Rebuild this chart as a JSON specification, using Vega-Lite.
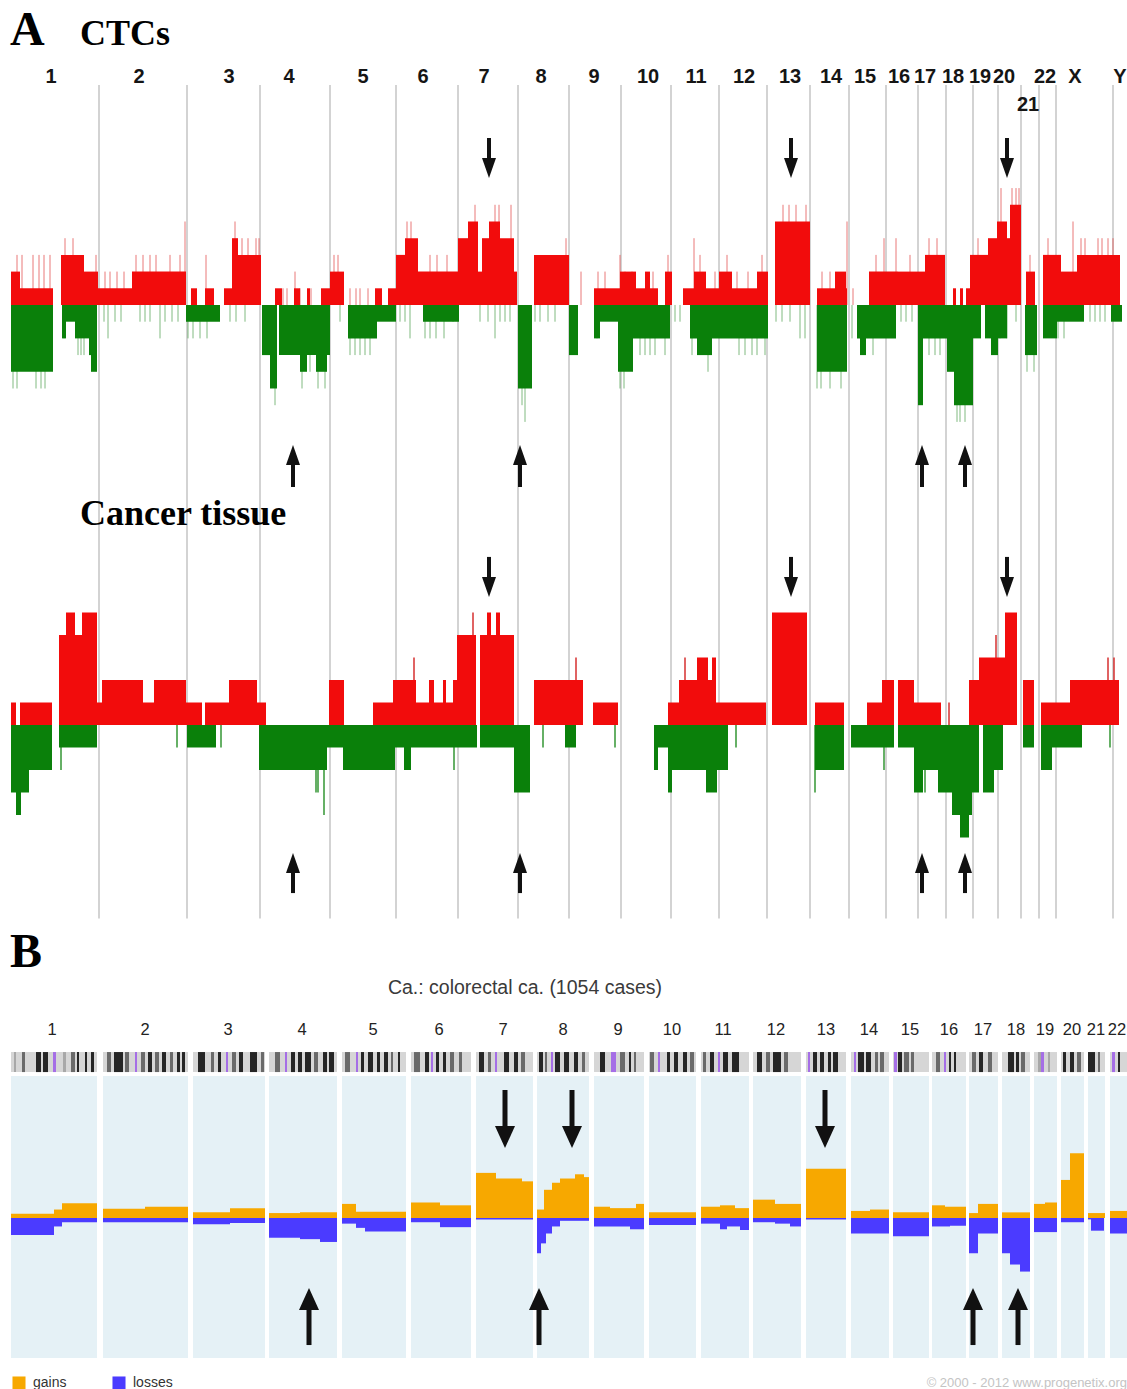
{
"$schema": "https://vega.github.io/schema/vega-lite/v6.json",
"background": "white",
"padding": {"left": 10, "top": 0, "right": 0, "bottom": 0},
"spacing": 0,
"bounds": "flush",
"config": {"view": {"stroke": null}},
"datasets": {
"chromA": [
{"chr":"1","start":10,"end":99,"lab":51},{"chr":"2","start":99,"end":187,"lab":139},{"chr":"3","start":187,"end":260,"lab":229},{"chr":"4","start":260,"end":330,"lab":289},{"chr":"5","start":330,"end":396,"lab":363},{"chr":"6","start":396,"end":458,"lab":423},{"chr":"7","start":458,"end":518,"lab":484},{"chr":"8","start":518,"end":569,"lab":541},{"chr":"9","start":569,"end":621,"lab":594},{"chr":"10","start":621,"end":671,"lab":648},{"chr":"11","start":671,"end":719,"lab":696},{"chr":"12","start":719,"end":767,"lab":744},{"chr":"13","start":767,"end":810,"lab":790},{"chr":"14","start":810,"end":849,"lab":831},{"chr":"15","start":849,"end":886,"lab":865},{"chr":"16","start":886,"end":918,"lab":899},{"chr":"17","start":918,"end":946,"lab":925},{"chr":"18","start":946,"end":973,"lab":953},{"chr":"19","start":973,"end":998,"lab":980},{"chr":"20","start":998,"end":1021,"lab":1004},{"chr":"21","start":1021,"end":1039,"lab":1028},{"chr":"22","start":1039,"end":1056,"lab":1045},{"chr":"X","start":1056,"end":1113,"lab":1075},{"chr":"Y","start":1113,"end":1127,"lab":1120}],
"arrowsA": [{"p":489,"dir":"down"},{"p":791,"dir":"down"},{"p":1007,"dir":"down"},{"p":293,"dir":"up"},{"p":520,"dir":"up"},{"p":922,"dir":"up"},{"p":965,"dir":"up"}],
"ctc": [
{"s":11,"e":20,"v":2},{"s":20,"e":53,"v":1},{"s":61,"e":84,"v":3},{"s":84,"e":98,"v":2},{"s":98,"e":132,"v":1},{"s":132,"e":186,"v":2},{"s":191,"e":197,"v":1},{"s":205,"e":214,"v":1},{"s":224,"e":232,"v":1},{"s":232,"e":238,"v":4},{"s":238,"e":261,"v":3},{"s":275,"e":282,"v":1},{"s":294,"e":300,"v":1},{"s":307,"e":310,"v":1},{"s":321,"e":330,"v":1},{"s":330,"e":344,"v":2},{"s":375,"e":382,"v":1},{"s":388,"e":396,"v":1},{"s":396,"e":405,"v":3},{"s":405,"e":418,"v":4},{"s":418,"e":458,"v":2},{"s":458,"e":468,"v":4},{"s":468,"e":478,"v":5},{"s":478,"e":482,"v":2},{"s":482,"e":489,"v":4},{"s":489,"e":500,"v":5},{"s":500,"e":514,"v":4},{"s":514,"e":517,"v":2},{"s":534,"e":569,"v":3},{"s":594,"e":620,"v":1},{"s":620,"e":636,"v":2},{"s":636,"e":658,"v":1},{"s":645,"e":650,"v":2},{"s":665,"e":672,"v":2},{"s":683,"e":690,"v":1},{"s":690,"e":719,"v":1},{"s":694,"e":706,"v":2},{"s":719,"e":732,"v":2},{"s":732,"e":757,"v":1},{"s":757,"e":768,"v":2},{"s":775,"e":810,"v":5},{"s":817,"e":847,"v":1},{"s":835,"e":846,"v":2},{"s":869,"e":898,"v":2},{"s":898,"e":925,"v":2},{"s":925,"e":945,"v":3},{"s":953,"e":956,"v":1},{"s":960,"e":963,"v":1},{"s":966,"e":970,"v":1},{"s":970,"e":988,"v":3},{"s":988,"e":997,"v":4},{"s":997,"e":1007,"v":5},{"s":1007,"e":1010,"v":4},{"s":1010,"e":1021,"v":6},{"s":1026,"e":1035,"v":2},{"s":1043,"e":1061,"v":3},{"s":1061,"e":1077,"v":2},{"s":1077,"e":1120,"v":3},
{"s":11,"e":53,"v":-4},{"s":62,"e":66,"v":-2},{"s":66,"e":75,"v":-1},{"s":75,"e":89,"v":-2},{"s":89,"e":92,"v":-3},{"s":91,"e":97,"v":-4},{"s":186,"e":220,"v":-1},{"s":262,"e":270,"v":-3},{"s":270,"e":277,"v":-5},{"s":279,"e":330,"v":-3},{"s":300,"e":307,"v":-4},{"s":316,"e":327,"v":-4},{"s":348,"e":377,"v":-2},{"s":377,"e":396,"v":-1},{"s":423,"e":459,"v":-1},{"s":518,"e":532,"v":-5},{"s":569,"e":578,"v":-3},{"s":594,"e":600,"v":-2},{"s":600,"e":618,"v":-1},{"s":618,"e":633,"v":-4},{"s":633,"e":670,"v":-2},{"s":690,"e":732,"v":-2},{"s":697,"e":712,"v":-3},{"s":732,"e":768,"v":-2},{"s":817,"e":847,"v":-4},{"s":857,"e":896,"v":-2},{"s":860,"e":866,"v":-3},{"s":918,"e":947,"v":-2},{"s":918,"e":923,"v":-6},{"s":947,"e":954,"v":-4},{"s":954,"e":973,"v":-6},{"s":973,"e":981,"v":-2},{"s":985,"e":1007,"v":-2},{"s":991,"e":998,"v":-3},{"s":1025,"e":1037,"v":-3},{"s":1043,"e":1057,"v":-2},{"s":1057,"e":1084,"v":-1},{"s":1111,"e":1122,"v":-1}],
"ctcSpikes": [
{"p":17,"v":3},{"p":22,"v":3},{"p":33,"v":3},{"p":39,"v":3},{"p":44,"v":3},{"p":50,"v":3},{"p":65,"v":4},{"p":73,"v":4},{"p":96,"v":3},{"p":105,"v":2},{"p":110,"v":2},{"p":117,"v":2},{"p":124,"v":2},{"p":136,"v":3},{"p":143,"v":3},{"p":150,"v":3},{"p":156,"v":3},{"p":170,"v":3},{"p":180,"v":3},{"p":185,"v":5},{"p":206,"v":3},{"p":235,"v":5},{"p":242,"v":4},{"p":248,"v":4},{"p":256,"v":4},{"p":259,"v":4},{"p":283,"v":1},{"p":287,"v":1},{"p":295,"v":2},{"p":300,"v":1},{"p":311,"v":1},{"p":334,"v":3},{"p":338,"v":3},{"p":350,"v":1},{"p":356,"v":1},{"p":360,"v":1},{"p":368,"v":1},{"p":407,"v":5},{"p":411,"v":5},{"p":430,"v":3},{"p":437,"v":3},{"p":447,"v":3},{"p":475,"v":6},{"p":495,"v":6},{"p":499,"v":6},{"p":511,"v":6},{"p":566,"v":4},{"p":581,"v":2},{"p":598,"v":2},{"p":605,"v":2},{"p":620,"v":3},{"p":625,"v":2},{"p":632,"v":2},{"p":653,"v":2},{"p":668,"v":3},{"p":694,"v":4},{"p":700,"v":3},{"p":715,"v":2},{"p":727,"v":3},{"p":737,"v":2},{"p":748,"v":2},{"p":762,"v":3},{"p":783,"v":6},{"p":789,"v":6},{"p":796,"v":6},{"p":806,"v":6},{"p":822,"v":2},{"p":830,"v":2},{"p":847,"v":5},{"p":853,"v":1},{"p":876,"v":3},{"p":884,"v":4},{"p":896,"v":4},{"p":910,"v":3},{"p":929,"v":4},{"p":937,"v":4},{"p":978,"v":4},{"p":1001,"v":7},{"p":1012,"v":7},{"p":1016,"v":7},{"p":1019,"v":7},{"p":1030,"v":3},{"p":1048,"v":4},{"p":1059,"v":3},{"p":1073,"v":5},{"p":1081,"v":4},{"p":1085,"v":4},{"p":1098,"v":4},{"p":1102,"v":4},{"p":1108,"v":4},{"p":1113,"v":4},
{"p":13,"v":-5},{"p":17,"v":-5},{"p":36,"v":-5},{"p":41,"v":-5},{"p":45,"v":-5},{"p":64,"v":-2},{"p":78,"v":-3},{"p":81,"v":-3},{"p":84,"v":-3},{"p":104,"v":-1},{"p":108,"v":-2},{"p":115,"v":-1},{"p":121,"v":-1},{"p":140,"v":-1},{"p":145,"v":-1},{"p":150,"v":-1},{"p":160,"v":-2},{"p":165,"v":-1},{"p":172,"v":-1},{"p":178,"v":-1},{"p":188,"v":-2},{"p":193,"v":-2},{"p":200,"v":-2},{"p":207,"v":-2},{"p":230,"v":-1},{"p":236,"v":-1},{"p":245,"v":-1},{"p":275,"v":-6},{"p":302,"v":-5},{"p":310,"v":-4},{"p":318,"v":-5},{"p":325,"v":-5},{"p":340,"v":-1},{"p":350,"v":-3},{"p":355,"v":-3},{"p":360,"v":-3},{"p":365,"v":-3},{"p":370,"v":-3},{"p":400,"v":-1},{"p":405,"v":-1},{"p":410,"v":-2},{"p":425,"v":-2},{"p":430,"v":-2},{"p":436,"v":-2},{"p":444,"v":-2},{"p":453,"v":-1},{"p":480,"v":-1},{"p":488,"v":-1},{"p":495,"v":-2},{"p":500,"v":-1},{"p":505,"v":-1},{"p":510,"v":-1},{"p":522,"v":-6},{"p":525,"v":-7},{"p":535,"v":-1},{"p":540,"v":-1},{"p":548,"v":-1},{"p":555,"v":-1},{"p":572,"v":-2},{"p":597,"v":-2},{"p":620,"v":-5},{"p":624,"v":-5},{"p":640,"v":-3},{"p":645,"v":-3},{"p":650,"v":-3},{"p":655,"v":-3},{"p":665,"v":-3},{"p":675,"v":-1},{"p":680,"v":-1},{"p":692,"v":-3},{"p":708,"v":-4},{"p":739,"v":-3},{"p":745,"v":-3},{"p":752,"v":-3},{"p":757,"v":-3},{"p":765,"v":-3},{"p":776,"v":-1},{"p":782,"v":-1},{"p":790,"v":-1},{"p":800,"v":-2},{"p":805,"v":-2},{"p":817,"v":-5},{"p":821,"v":-5},{"p":830,"v":-5},{"p":841,"v":-5},{"p":852,"v":-2},{"p":873,"v":-3},{"p":901,"v":-1},{"p":906,"v":-1},{"p":912,"v":-1},{"p":929,"v":-3},{"p":935,"v":-3},{"p":940,"v":-3},{"p":957,"v":-7},{"p":960,"v":-7},{"p":965,"v":-7},{"p":1000,"v":-2},{"p":1007,"v":-2},{"p":1016,"v":-1},{"p":1027,"v":-4},{"p":1034,"v":-4},{"p":1058,"v":-2},{"p":1064,"v":-2},{"p":1090,"v":-1},{"p":1095,"v":-1},{"p":1100,"v":-1},{"p":1105,"v":-1}],
"tis": [
{"s":11,"e":16,"v":1},{"s":20,"e":52,"v":1},{"s":59,"e":66,"v":4},{"s":66,"e":75,"v":5},{"s":75,"e":82,"v":4},{"s":82,"e":97,"v":5},{"s":97,"e":102,"v":1},{"s":102,"e":143,"v":2},{"s":143,"e":154,"v":1},{"s":154,"e":186,"v":2},{"s":186,"e":202,"v":1},{"s":205,"e":229,"v":1},{"s":229,"e":257,"v":2},{"s":257,"e":266,"v":1},{"s":329,"e":344,"v":2},{"s":373,"e":393,"v":1},{"s":393,"e":416,"v":2},{"s":416,"e":429,"v":1},{"s":429,"e":434,"v":2},{"s":434,"e":443,"v":1},{"s":443,"e":446,"v":2},{"s":446,"e":453,"v":1},{"s":453,"e":457,"v":2},{"s":457,"e":476,"v":4},{"s":480,"e":487,"v":4},{"s":487,"e":491,"v":5},{"s":491,"e":496,"v":4},{"s":496,"e":500,"v":5},{"s":500,"e":514,"v":4},{"s":534,"e":583,"v":2},{"s":593,"e":618,"v":1},{"s":668,"e":679,"v":1},{"s":679,"e":697,"v":2},{"s":697,"e":708,"v":3},{"s":708,"e":712,"v":2},{"s":712,"e":716,"v":3},{"s":716,"e":766,"v":1},{"s":772,"e":807,"v":5},{"s":815,"e":844,"v":1},{"s":867,"e":882,"v":1},{"s":882,"e":894,"v":2},{"s":898,"e":914,"v":2},{"s":914,"e":941,"v":1},{"s":969,"e":979,"v":2},{"s":979,"e":1005,"v":3},{"s":1005,"e":1017,"v":5},{"s":1023,"e":1034,"v":2},{"s":1041,"e":1070,"v":1},{"s":1070,"e":1119,"v":2},
{"s":11,"e":29,"v":-3},{"s":16,"e":21,"v":-4},{"s":29,"e":52,"v":-2},{"s":59,"e":97,"v":-1},{"s":187,"e":216,"v":-1},{"s":259,"e":327,"v":-2},{"s":327,"e":343,"v":-1},{"s":343,"e":395,"v":-2},{"s":395,"e":404,"v":-1},{"s":404,"e":411,"v":-2},{"s":411,"e":477,"v":-1},{"s":480,"e":514,"v":-1},{"s":514,"e":530,"v":-3},{"s":565,"e":576,"v":-1},{"s":654,"e":658,"v":-2},{"s":658,"e":668,"v":-1},{"s":668,"e":672,"v":-3},{"s":672,"e":728,"v":-2},{"s":706,"e":717,"v":-3},{"s":815,"e":844,"v":-2},{"s":851,"e":894,"v":-1},{"s":898,"e":914,"v":-1},{"s":914,"e":923,"v":-3},{"s":923,"e":938,"v":-2},{"s":938,"e":952,"v":-3},{"s":952,"e":960,"v":-4},{"s":960,"e":969,"v":-5},{"s":969,"e":972,"v":-4},{"s":972,"e":979,"v":-3},{"s":983,"e":994,"v":-3},{"s":994,"e":1003,"v":-2},{"s":1023,"e":1034,"v":-1},{"s":1041,"e":1052,"v":-2},{"s":1052,"e":1082,"v":-1}],
"tisSpikes": [{"p":414,"v":3},{"p":473,"v":5},{"p":576,"v":3},{"p":685,"v":3},{"p":949,"v":1},{"p":996,"v":4},{"p":1108,"v":3},{"p":1114,"v":3},{"p":61,"v":-2},{"p":177,"v":-1},{"p":221,"v":-1},{"p":316,"v":-3},{"p":318,"v":-3},{"p":324,"v":-4},{"p":454,"v":-2},{"p":543,"v":-1},{"p":615,"v":-1},{"p":736,"v":-1},{"p":815,"v":-3},{"p":884,"v":-2},{"p":925,"v":-3},{"p":1110,"v":-1}],
"chromB": [
{"chr":"1","start":11,"end":97,"lab":52},{"chr":"2","start":103,"end":188,"lab":145},{"chr":"3","start":193,"end":265,"lab":228},{"chr":"4","start":269,"end":337,"lab":302},{"chr":"5","start":342,"end":406,"lab":373},{"chr":"6","start":411,"end":471,"lab":439},{"chr":"7","start":476,"end":533,"lab":503},{"chr":"8","start":537,"end":589,"lab":563},{"chr":"9","start":594,"end":644,"lab":618},{"chr":"10","start":649,"end":696,"lab":672},{"chr":"11","start":701,"end":749,"lab":723},{"chr":"12","start":753,"end":801,"lab":776},{"chr":"13","start":806,"end":846,"lab":826},{"chr":"14","start":851,"end":889,"lab":869},{"chr":"15","start":893,"end":929,"lab":910},{"chr":"16","start":932,"end":966,"lab":949},{"chr":"17","start":969,"end":998,"lab":983},{"chr":"18","start":1002,"end":1030,"lab":1016},{"chr":"19","start":1034,"end":1057,"lab":1045},{"chr":"20","start":1061,"end":1084,"lab":1072},{"chr":"21","start":1088,"end":1105,"lab":1096},{"chr":"22","start":1110,"end":1127,"lab":1117}],
"bands": [
{"s":14,"e":16,"st":"gpos25"},{"s":22,"e":25,"st":"gpos50"},{"s":36,"e":41,"st":"gpos100"},{"s":43,"e":48,"st":"gpos100"},{"s":53,"e":56,"st":"acen"},{"s":63,"e":66,"st":"gpos25"},{"s":71,"e":75,"st":"gpos50"},{"s":77,"e":79,"st":"gpos100"},{"s":85,"e":87,"st":"gpos100"},{"s":91,"e":94,"st":"gpos100"},
{"s":107,"e":111,"st":"gpos50"},{"s":114,"e":123,"st":"gpos100"},{"s":125,"e":129,"st":"gpos50"},{"s":135,"e":137,"st":"acen"},{"s":141,"e":145,"st":"gpos50"},{"s":148,"e":152,"st":"gpos100"},{"s":155,"e":159,"st":"gpos50"},{"s":162,"e":166,"st":"gpos100"},{"s":170,"e":173,"st":"gpos50"},{"s":177,"e":180,"st":"gpos100"},{"s":182,"e":185,"st":"gpos100"},
{"s":198,"e":205,"st":"gpos100"},{"s":211,"e":214,"st":"gpos50"},{"s":218,"e":221,"st":"gpos100"},{"s":226,"e":228,"st":"acen"},{"s":232,"e":236,"st":"gpos50"},{"s":239,"e":243,"st":"gpos100"},{"s":250,"e":257,"st":"gpos100"},{"s":261,"e":264,"st":"gpos50"},
{"s":275,"e":280,"st":"gpos50"},{"s":285,"e":287,"st":"acen"},{"s":291,"e":295,"st":"gpos100"},{"s":298,"e":302,"st":"gpos100"},{"s":305,"e":311,"st":"gpos100"},{"s":314,"e":318,"st":"gpos50"},{"s":323,"e":327,"st":"gpos100"},{"s":329,"e":334,"st":"gpos100"},
{"s":345,"e":350,"st":"gpos50"},{"s":356,"e":358,"st":"acen"},{"s":361,"e":364,"st":"gpos100"},{"s":368,"e":373,"st":"gpos100"},{"s":377,"e":380,"st":"gpos100"},{"s":384,"e":388,"st":"gpos100"},{"s":391,"e":393,"st":"gpos50"},{"s":398,"e":400,"st":"gpos100"},
{"s":414,"e":420,"st":"gpos50"},{"s":425,"e":429,"st":"gpos100"},{"s":431,"e":433,"st":"acen"},{"s":436,"e":439,"st":"gpos100"},{"s":443,"e":446,"st":"gpos100"},{"s":450,"e":454,"st":"gpos50"},{"s":459,"e":462,"st":"gpos50"},
{"s":479,"e":484,"st":"gpos100"},{"s":488,"e":491,"st":"gpos50"},{"s":495,"e":497,"st":"acen"},{"s":504,"e":509,"st":"gpos100"},{"s":514,"e":518,"st":"gpos100"},{"s":521,"e":525,"st":"gpos50"},
{"s":539,"e":543,"st":"gpos100"},{"s":545,"e":547,"st":"gpos50"},{"s":551,"e":553,"st":"acen"},{"s":555,"e":560,"st":"gpos100"},{"s":564,"e":569,"st":"gpos100"},{"s":574,"e":578,"st":"gpos100"},{"s":582,"e":585,"st":"gpos50"},
{"s":600,"e":605,"st":"gpos100"},{"s":611,"e":616,"st":"acen"},{"s":620,"e":625,"st":"gpos50"},{"s":629,"e":631,"st":"gpos100"},{"s":634,"e":636,"st":"gpos50"},
{"s":650,"e":654,"st":"gpos50"},{"s":658,"e":660,"st":"acen"},{"s":667,"e":670,"st":"gpos100"},{"s":674,"e":678,"st":"gpos100"},{"s":683,"e":687,"st":"gpos100"},{"s":690,"e":694,"st":"gpos50"},
{"s":703,"e":706,"st":"gpos50"},{"s":710,"e":714,"st":"gpos100"},{"s":718,"e":720,"st":"acen"},{"s":723,"e":728,"st":"gpos100"},{"s":732,"e":739,"st":"gpos100"},
{"s":757,"e":762,"st":"gpos100"},{"s":766,"e":770,"st":"gpos50"},{"s":773,"e":781,"st":"gpos100"},{"s":784,"e":788,"st":"gpos50"},
{"s":808,"e":810,"st":"acen"},{"s":813,"e":817,"st":"gpos100"},{"s":820,"e":824,"st":"gpos100"},{"s":828,"e":831,"st":"gpos100"},{"s":833,"e":838,"st":"gpos100"},
{"s":854,"e":856,"st":"acen"},{"s":858,"e":864,"st":"gpos100"},{"s":866,"e":871,"st":"gpos100"},{"s":875,"e":878,"st":"gpos50"},{"s":880,"e":884,"st":"gpos50"},
{"s":894,"e":897,"st":"acen"},{"s":898,"e":902,"st":"gpos100"},{"s":904,"e":909,"st":"gpos50"},{"s":911,"e":914,"st":"gpos50"},
{"s":936,"e":940,"st":"gpos50"},{"s":944,"e":946,"st":"acen"},{"s":949,"e":951,"st":"gpos100"},{"s":954,"e":956,"st":"gpos100"},
{"s":972,"e":976,"st":"gpos50"},{"s":979,"e":983,"st":"gpos100"},{"s":988,"e":992,"st":"gpos50"},
{"s":1008,"e":1014,"st":"gpos100"},{"s":1016,"e":1019,"st":"gpos100"},{"s":1021,"e":1025,"st":"gpos50"},
{"s":1038,"e":1041,"st":"gpos25"},{"s":1041,"e":1044,"st":"acen"},{"s":1048,"e":1050,"st":"gpos25"},
{"s":1063,"e":1066,"st":"gpos100"},{"s":1070,"e":1074,"st":"gpos100"},{"s":1077,"e":1081,"st":"gpos50"},
{"s":1088,"e":1095,"st":"gpos100"},{"s":1098,"e":1100,"st":"gpos50"},
{"s":1112,"e":1115,"st":"acen"},{"s":1118,"e":1120,"st":"gpos100"}],
"freqB": [
{"s":11,"e":54,"pct":3,"type":"gains"},{"s":54,"e":62,"pct":6,"type":"gains"},{"s":62,"e":97,"pct":10.5,"type":"gains"},{"s":103,"e":145,"pct":6.5,"type":"gains"},{"s":145,"e":188,"pct":8,"type":"gains"},{"s":193,"e":230,"pct":4,"type":"gains"},{"s":230,"e":265,"pct":7,"type":"gains"},{"s":269,"e":300,"pct":3.5,"type":"gains"},{"s":300,"e":337,"pct":4,"type":"gains"},{"s":342,"e":356,"pct":10,"type":"gains"},{"s":356,"e":406,"pct":4.5,"type":"gains"},{"s":411,"e":440,"pct":11,"type":"gains"},{"s":440,"e":471,"pct":9,"type":"gains"},{"s":476,"e":496,"pct":32,"type":"gains"},{"s":496,"e":522,"pct":28,"type":"gains"},{"s":522,"e":533,"pct":26,"type":"gains"},{"s":537,"e":544,"pct":6,"type":"gains"},{"s":544,"e":552,"pct":20,"type":"gains"},{"s":552,"e":560,"pct":25,"type":"gains"},{"s":560,"e":575,"pct":28,"type":"gains"},{"s":575,"e":584,"pct":31,"type":"gains"},{"s":584,"e":589,"pct":29,"type":"gains"},{"s":594,"e":610,"pct":8,"type":"gains"},{"s":610,"e":636,"pct":7,"type":"gains"},{"s":636,"e":644,"pct":10,"type":"gains"},{"s":649,"e":696,"pct":4,"type":"gains"},{"s":701,"e":720,"pct":8,"type":"gains"},{"s":720,"e":735,"pct":9,"type":"gains"},{"s":735,"e":749,"pct":7,"type":"gains"},{"s":753,"e":775,"pct":13,"type":"gains"},{"s":775,"e":801,"pct":10,"type":"gains"},{"s":806,"e":846,"pct":35,"type":"gains"},{"s":851,"e":870,"pct":5,"type":"gains"},{"s":870,"e":889,"pct":6,"type":"gains"},{"s":893,"e":929,"pct":4,"type":"gains"},{"s":932,"e":945,"pct":9,"type":"gains"},{"s":945,"e":966,"pct":8,"type":"gains"},{"s":969,"e":978,"pct":3.5,"type":"gains"},{"s":978,"e":998,"pct":10,"type":"gains"},{"s":1002,"e":1030,"pct":4,"type":"gains"},{"s":1034,"e":1045,"pct":10,"type":"gains"},{"s":1045,"e":1057,"pct":11,"type":"gains"},{"s":1061,"e":1070,"pct":27,"type":"gains"},{"s":1070,"e":1084,"pct":46,"type":"gains"},{"s":1088,"e":1105,"pct":3.5,"type":"gains"},{"s":1110,"e":1127,"pct":5,"type":"gains"},
{"s":11,"e":54,"pct":-12,"type":"losses"},{"s":54,"e":62,"pct":-6,"type":"losses"},{"s":62,"e":97,"pct":-3,"type":"losses"},{"s":103,"e":188,"pct":-3,"type":"losses"},{"s":193,"e":230,"pct":-4.5,"type":"losses"},{"s":230,"e":265,"pct":-3.5,"type":"losses"},{"s":269,"e":300,"pct":-14,"type":"losses"},{"s":300,"e":320,"pct":-15,"type":"losses"},{"s":320,"e":337,"pct":-17,"type":"losses"},{"s":342,"e":356,"pct":-4,"type":"losses"},{"s":356,"e":365,"pct":-7,"type":"losses"},{"s":365,"e":406,"pct":-9.5,"type":"losses"},{"s":411,"e":440,"pct":-3,"type":"losses"},{"s":440,"e":471,"pct":-6.5,"type":"losses"},{"s":476,"e":533,"pct":-1,"type":"losses"},{"s":537,"e":541,"pct":-25,"type":"losses"},{"s":541,"e":546,"pct":-18,"type":"losses"},{"s":546,"e":552,"pct":-11,"type":"losses"},{"s":552,"e":560,"pct":-6,"type":"losses"},{"s":560,"e":589,"pct":-2,"type":"losses"},{"s":594,"e":630,"pct":-6,"type":"losses"},{"s":630,"e":644,"pct":-8,"type":"losses"},{"s":649,"e":696,"pct":-5,"type":"losses"},{"s":701,"e":720,"pct":-4,"type":"losses"},{"s":720,"e":727,"pct":-8,"type":"losses"},{"s":727,"e":740,"pct":-6,"type":"losses"},{"s":740,"e":749,"pct":-8.5,"type":"losses"},{"s":753,"e":775,"pct":-3,"type":"losses"},{"s":775,"e":790,"pct":-4,"type":"losses"},{"s":790,"e":801,"pct":-6,"type":"losses"},{"s":806,"e":846,"pct":-1,"type":"losses"},{"s":851,"e":889,"pct":-11,"type":"losses"},{"s":893,"e":929,"pct":-13,"type":"losses"},{"s":932,"e":950,"pct":-6,"type":"losses"},{"s":950,"e":966,"pct":-5.5,"type":"losses"},{"s":969,"e":978,"pct":-25,"type":"losses"},{"s":978,"e":998,"pct":-11,"type":"losses"},{"s":1002,"e":1010,"pct":-25,"type":"losses"},{"s":1010,"e":1020,"pct":-33,"type":"losses"},{"s":1020,"e":1030,"pct":-38,"type":"losses"},{"s":1034,"e":1057,"pct":-10,"type":"losses"},{"s":1061,"e":1084,"pct":-3,"type":"losses"},{"s":1088,"e":1091,"pct":-1,"type":"losses"},{"s":1091,"e":1104,"pct":-9,"type":"losses"},{"s":1110,"e":1127,"pct":-11,"type":"losses"}],
"arrowsB": [{"p":505,"dir":"down"},{"p":572,"dir":"down"},{"p":825,"dir":"down"},{"p":309,"dir":"up"},{"p":539,"dir":"up"},{"p":973,"dir":"up"},{"p":1018,"dir":"up"}]
},
"vconcat": [
{
"width": 1117, "height": 500,
"layer": [
{"data": {"name": "chromA"}, "transform": [{"filter": "datum.chr != '1'"}],
 "mark": {"type": "rule", "color": "#c4c4c4", "strokeWidth": 1.5},
 "encoding": {"x": {"field": "start", "type": "quantitative", "scale": {"domain": [10, 1127], "nice": false, "zero": false}, "axis": null},
  "y": {"datum": 13.17, "type": "quantitative", "scale": {"domain": [-11.677, 18.263], "nice": false, "zero": false}, "axis": null}, "y2": {"datum": -11.677}}},
{"data": {"name": "ctcSpikes"},
 "mark": {"type": "rule", "strokeWidth": 1, "opacity": 0.7},
 "encoding": {"x": {"field": "p", "type": "quantitative", "scale": {"domain": [10, 1127], "nice": false, "zero": false}, "axis": null},
  "y": {"field": "v", "type": "quantitative", "scale": {"domain": [-11.677, 18.263], "nice": false, "zero": false}, "axis": null}, "y2": {"datum": 0},
  "color": {"condition": {"test": "datum.v > 0", "value": "#e04040"}, "value": "#4a9e4a"}}},
{"data": {"name": "ctc"},
 "mark": {"type": "rect"},
 "encoding": {"x": {"field": "s", "type": "quantitative", "scale": {"domain": [10, 1127], "nice": false, "zero": false}, "axis": null}, "x2": {"field": "e"},
  "y": {"field": "v", "type": "quantitative", "scale": {"domain": [-11.677, 18.263], "nice": false, "zero": false}, "axis": null}, "y2": {"datum": 0},
  "color": {"condition": {"test": "datum.v > 0", "value": "#f20c0c"}, "value": "#0a800a"}}},
{"data": {"name": "chromA"}, "transform": [{"filter": "datum.chr != '21'"}],
 "mark": {"type": "text", "font": "Liberation Sans", "fontWeight": "bold", "fontSize": 20, "color": "#151515", "align": "center", "baseline": "middle"},
 "encoding": {"x": {"field": "lab", "type": "quantitative", "scale": {"domain": [10, 1127], "nice": false, "zero": false}, "axis": null},
  "y": {"datum": 13.65, "type": "quantitative", "scale": {"domain": [-11.677, 18.263], "nice": false, "zero": false}, "axis": null}, "text": {"field": "chr"}}},
{"data": {"name": "chromA"}, "transform": [{"filter": "datum.chr == '21'"}],
 "mark": {"type": "text", "font": "Liberation Sans", "fontWeight": "bold", "fontSize": 20, "color": "#151515", "align": "center", "baseline": "middle"},
 "encoding": {"x": {"field": "lab", "type": "quantitative", "scale": {"domain": [10, 1127], "nice": false, "zero": false}, "axis": null},
  "y": {"datum": 11.98, "type": "quantitative", "scale": {"domain": [-11.677, 18.263], "nice": false, "zero": false}, "axis": null}, "text": {"field": "chr"}}},
{"data": {"values": [{"t": "A"}]},
 "mark": {"type": "text", "font": "Liberation Serif, Times New Roman, serif", "fontWeight": "bold", "fontSize": 48, "color": "#000", "align": "left", "baseline": "alphabetic"},
 "encoding": {"x": {"datum": 10, "type": "quantitative", "scale": {"domain": [10, 1127], "nice": false, "zero": false}, "axis": null},
  "y": {"datum": 15.55, "type": "quantitative", "scale": {"domain": [-11.677, 18.263], "nice": false, "zero": false}, "axis": null}, "text": {"field": "t"}}},
{"data": {"values": [{"t": "CTCs"}]},
 "mark": {"type": "text", "font": "Liberation Serif, Times New Roman, serif", "fontWeight": "bold", "fontSize": 36, "color": "#000", "align": "left", "baseline": "alphabetic"},
 "encoding": {"x": {"datum": 80, "type": "quantitative", "scale": {"domain": [10, 1127], "nice": false, "zero": false}, "axis": null},
  "y": {"datum": 15.55, "type": "quantitative", "scale": {"domain": [-11.677, 18.263], "nice": false, "zero": false}, "axis": null}, "text": {"field": "t"}}},
{"data": {"name": "arrowsA"}, "transform": [{"filter": "datum.dir == 'down'"}],
 "mark": {"type": "rule", "strokeWidth": 4, "color": "#111"},
 "encoding": {"x": {"field": "p", "type": "quantitative", "scale": {"domain": [10, 1127], "nice": false, "zero": false}, "axis": null},
  "y": {"datum": 10.0, "type": "quantitative", "scale": {"domain": [-11.677, 18.263], "nice": false, "zero": false}, "axis": null}, "y2": {"datum": 8.6}}},
{"data": {"name": "arrowsA"}, "transform": [{"filter": "datum.dir == 'down'"}],
 "mark": {"type": "point", "shape": "M-0.7,-1L0.7,-1L0,1Z", "size": 400, "filled": true, "opacity": 1, "color": "#111", "strokeWidth": 0},
 "encoding": {"x": {"field": "p", "type": "quantitative", "scale": {"domain": [10, 1127], "nice": false, "zero": false}, "axis": null},
  "y": {"datum": 8.2, "type": "quantitative", "scale": {"domain": [-11.677, 18.263], "nice": false, "zero": false}, "axis": null}}},
{"data": {"name": "arrowsA"}, "transform": [{"filter": "datum.dir == 'up'"}],
 "mark": {"type": "rule", "strokeWidth": 4, "color": "#111"},
 "encoding": {"x": {"field": "p", "type": "quantitative", "scale": {"domain": [10, 1127], "nice": false, "zero": false}, "axis": null},
  "y": {"datum": -9.4, "type": "quantitative", "scale": {"domain": [-11.677, 18.263], "nice": false, "zero": false}, "axis": null}, "y2": {"datum": -10.9}}},
{"data": {"name": "arrowsA"}, "transform": [{"filter": "datum.dir == 'up'"}],
 "mark": {"type": "point", "shape": "M-0.7,1L0.7,1L0,-1Z", "size": 400, "filled": true, "opacity": 1, "color": "#111", "strokeWidth": 0},
 "encoding": {"x": {"field": "p", "type": "quantitative", "scale": {"domain": [10, 1127], "nice": false, "zero": false}, "axis": null},
  "y": {"datum": -8.98, "type": "quantitative", "scale": {"domain": [-11.677, 18.263], "nice": false, "zero": false}, "axis": null}}}
]
},
{
"width": 1117, "height": 420,
"layer": [
{"data": {"name": "chromA"}, "transform": [{"filter": "datum.chr != '1'"}],
 "mark": {"type": "rule", "color": "#c4c4c4", "strokeWidth": 1.5},
 "encoding": {"x": {"field": "start", "type": "quantitative", "scale": {"domain": [10, 1127], "nice": false, "zero": false}, "axis": null},
  "y": {"datum": 10, "type": "quantitative", "scale": {"domain": [-8.667, 10], "nice": false, "zero": false}, "axis": null}, "y2": {"datum": -8.6}}},
{"data": {"name": "tisSpikes"},
 "mark": {"type": "rule", "strokeWidth": 1.5, "opacity": 0.9},
 "encoding": {"x": {"field": "p", "type": "quantitative", "scale": {"domain": [10, 1127], "nice": false, "zero": false}, "axis": null},
  "y": {"field": "v", "type": "quantitative", "scale": {"domain": [-8.667, 10], "nice": false, "zero": false}, "axis": null}, "y2": {"datum": 0},
  "color": {"condition": {"test": "datum.v > 0", "value": "#d01818"}, "value": "#1d8a1d"}}},
{"data": {"name": "tis"},
 "mark": {"type": "rect"},
 "encoding": {"x": {"field": "s", "type": "quantitative", "scale": {"domain": [10, 1127], "nice": false, "zero": false}, "axis": null}, "x2": {"field": "e"},
  "y": {"field": "v", "type": "quantitative", "scale": {"domain": [-8.667, 10], "nice": false, "zero": false}, "axis": null}, "y2": {"datum": 0},
  "color": {"condition": {"test": "datum.v > 0", "value": "#f20c0c"}, "value": "#0a800a"}}},
{"data": {"values": [{"t": "Cancer tissue"}]},
 "mark": {"type": "text", "font": "Liberation Serif, Times New Roman, serif", "fontWeight": "bold", "fontSize": 36, "color": "#000", "align": "left", "baseline": "alphabetic"},
 "encoding": {"x": {"datum": 80, "type": "quantitative", "scale": {"domain": [10, 1127], "nice": false, "zero": false}, "axis": null},
  "y": {"datum": 8.89, "type": "quantitative", "scale": {"domain": [-8.667, 10], "nice": false, "zero": false}, "axis": null}, "text": {"field": "t"}}},
{"data": {"name": "arrowsA"}, "transform": [{"filter": "datum.dir == 'down'"}],
 "mark": {"type": "rule", "strokeWidth": 4, "color": "#111"},
 "encoding": {"x": {"field": "p", "type": "quantitative", "scale": {"domain": [10, 1127], "nice": false, "zero": false}, "axis": null},
  "y": {"datum": 7.47, "type": "quantitative", "scale": {"domain": [-8.667, 10], "nice": false, "zero": false}, "axis": null}, "y2": {"datum": 6.5}}},
{"data": {"name": "arrowsA"}, "transform": [{"filter": "datum.dir == 'down'"}],
 "mark": {"type": "point", "shape": "M-0.7,-1L0.7,-1L0,1Z", "size": 400, "filled": true, "opacity": 1, "color": "#111", "strokeWidth": 0},
 "encoding": {"x": {"field": "p", "type": "quantitative", "scale": {"domain": [10, 1127], "nice": false, "zero": false}, "axis": null},
  "y": {"datum": 6.13, "type": "quantitative", "scale": {"domain": [-8.667, 10], "nice": false, "zero": false}, "axis": null}}},
{"data": {"name": "arrowsA"}, "transform": [{"filter": "datum.dir == 'up'"}],
 "mark": {"type": "rule", "strokeWidth": 4, "color": "#111"},
 "encoding": {"x": {"field": "p", "type": "quantitative", "scale": {"domain": [10, 1127], "nice": false, "zero": false}, "axis": null},
  "y": {"datum": -6.5, "type": "quantitative", "scale": {"domain": [-8.667, 10], "nice": false, "zero": false}, "axis": null}, "y2": {"datum": -7.47}}},
{"data": {"name": "arrowsA"}, "transform": [{"filter": "datum.dir == 'up'"}],
 "mark": {"type": "point", "shape": "M-0.7,1L0.7,1L0,-1Z", "size": 400, "filled": true, "opacity": 1, "color": "#111", "strokeWidth": 0},
 "encoding": {"x": {"field": "p", "type": "quantitative", "scale": {"domain": [10, 1127], "nice": false, "zero": false}, "axis": null},
  "y": {"datum": -6.13, "type": "quantitative", "scale": {"domain": [-8.667, 10], "nice": false, "zero": false}, "axis": null}}}
]
},
{
"width": 1117, "height": 469,
"layer": [
{"data": {"name": "chromB"},
 "mark": {"type": "rect", "color": "#e5f1f6"},
 "encoding": {"x": {"field": "start", "type": "quantitative", "scale": {"domain": [10, 1127], "nice": false, "zero": false}, "axis": null}, "x2": {"field": "end"},
  "y": {"datum": 100.7, "type": "quantitative", "scale": {"domain": [-121.28, 211.35], "nice": false, "zero": false}, "axis": null}, "y2": {"datum": -99.3}}},
{"data": {"name": "chromB"},
 "mark": {"type": "rect", "color": "#d6d6d6"},
 "encoding": {"x": {"field": "start", "type": "quantitative", "scale": {"domain": [10, 1127], "nice": false, "zero": false}, "axis": null}, "x2": {"field": "end"},
  "y": {"datum": 117.7, "type": "quantitative", "scale": {"domain": [-121.28, 211.35], "nice": false, "zero": false}, "axis": null}, "y2": {"datum": 103.5}}},
{"data": {"name": "bands"},
 "mark": {"type": "rect"},
 "encoding": {"x": {"field": "s", "type": "quantitative", "scale": {"domain": [10, 1127], "nice": false, "zero": false}, "axis": null}, "x2": {"field": "e"},
  "y": {"datum": 117.7, "type": "quantitative", "scale": {"domain": [-121.28, 211.35], "nice": false, "zero": false}, "axis": null}, "y2": {"datum": 103.5},
  "fill": {"field": "st", "type": "nominal", "scale": {"domain": ["gpos100", "gpos50", "gpos25", "acen"], "range": ["#262626", "#6a6a6a", "#a8a8a8", "#a56ee6"]}, "legend": null}}},
{"data": {"name": "freqB"},
 "mark": {"type": "rect"},
 "encoding": {"x": {"field": "s", "type": "quantitative", "scale": {"domain": [10, 1127], "nice": false, "zero": false}, "axis": null}, "x2": {"field": "e"},
  "y": {"field": "pct", "type": "quantitative", "scale": {"domain": [-121.28, 211.35], "nice": false, "zero": false}, "axis": null}, "y2": {"datum": 0},
  "color": {"field": "type", "type": "nominal", "scale": {"domain": ["gains", "losses"], "range": ["#f7a800", "#4b3bff"]},
   "legend": {"orient": "none", "legendX": 2, "legendY": 1376, "direction": "horizontal", "title": null, "symbolType": "square", "symbolSize": 170, "symbolOpacity": 1, "symbolStrokeWidth": 0, "labelFontSize": 14, "labelFont": "Liberation Sans", "labelColor": "#333", "labelOffset": 7, "columnPadding": 45, "padding": 0}}}},
{"data": {"name": "chromB"},
 "mark": {"type": "text", "font": "Liberation Sans", "fontSize": 16.5, "color": "#222", "align": "center", "baseline": "middle"},
 "encoding": {"x": {"field": "lab", "type": "quantitative", "scale": {"domain": [10, 1127], "nice": false, "zero": false}, "axis": null},
  "y": {"datum": 133.3, "type": "quantitative", "scale": {"domain": [-121.28, 211.35], "nice": false, "zero": false}, "axis": null}, "text": {"field": "chr"}}},
{"data": {"values": [{"t": "Ca.: colorectal ca. (1054 cases)"}]},
 "mark": {"type": "text", "font": "Liberation Sans", "fontSize": 19.5, "color": "#3a3a3a", "align": "center", "baseline": "middle"},
 "encoding": {"x": {"datum": 525, "type": "quantitative", "scale": {"domain": [10, 1127], "nice": false, "zero": false}, "axis": null},
  "y": {"datum": 163.1, "type": "quantitative", "scale": {"domain": [-121.28, 211.35], "nice": false, "zero": false}, "axis": null}, "text": {"field": "t"}}},
{"data": {"values": [{"t": "B"}]},
 "mark": {"type": "text", "font": "Liberation Serif, Times New Roman, serif", "fontWeight": "bold", "fontSize": 48, "color": "#000", "align": "left", "baseline": "alphabetic"},
 "encoding": {"x": {"datum": 10, "type": "quantitative", "scale": {"domain": [10, 1127], "nice": false, "zero": false}, "axis": null},
  "y": {"datum": 178, "type": "quantitative", "scale": {"domain": [-121.28, 211.35], "nice": false, "zero": false}, "axis": null}, "text": {"field": "t"}}},
{"data": {"values": [{"t": "© 2000 - 2012 www.progenetix.org"}]},
 "mark": {"type": "text", "font": "Liberation Sans", "fontSize": 13, "color": "#c4c4c4", "align": "right", "baseline": "middle"},
 "encoding": {"x": {"datum": 1127, "type": "quantitative", "scale": {"domain": [10, 1127], "nice": false, "zero": false}, "axis": null},
  "y": {"datum": -117, "type": "quantitative", "scale": {"domain": [-121.28, 211.35], "nice": false, "zero": false}, "axis": null}, "text": {"field": "t"}}},
{"data": {"name": "arrowsB"}, "transform": [{"filter": "datum.dir == 'down'"}],
 "mark": {"type": "rule", "strokeWidth": 5, "color": "#111"},
 "encoding": {"x": {"field": "p", "type": "quantitative", "scale": {"domain": [10, 1127], "nice": false, "zero": false}, "axis": null},
  "y": {"datum": 90.8, "type": "quantitative", "scale": {"domain": [-121.28, 211.35], "nice": false, "zero": false}, "axis": null}, "y2": {"datum": 63}}},
{"data": {"name": "arrowsB"}, "transform": [{"filter": "datum.dir == 'down'"}],
 "mark": {"type": "point", "shape": "M-1,-1.1L1,-1.1L0,1.1Z", "size": 400, "filled": true, "opacity": 1, "color": "#111", "strokeWidth": 0},
 "encoding": {"x": {"field": "p", "type": "quantitative", "scale": {"domain": [10, 1127], "nice": false, "zero": false}, "axis": null},
  "y": {"datum": 57.4, "type": "quantitative", "scale": {"domain": [-121.28, 211.35], "nice": false, "zero": false}, "axis": null}}},
{"data": {"name": "arrowsB"}, "transform": [{"filter": "datum.dir == 'up'"}],
 "mark": {"type": "rule", "strokeWidth": 5, "color": "#111"},
 "encoding": {"x": {"field": "p", "type": "quantitative", "scale": {"domain": [10, 1127], "nice": false, "zero": false}, "axis": null},
  "y": {"datum": -63, "type": "quantitative", "scale": {"domain": [-121.28, 211.35], "nice": false, "zero": false}, "axis": null}, "y2": {"datum": -90.1}}},
{"data": {"name": "arrowsB"}, "transform": [{"filter": "datum.dir == 'up'"}],
 "mark": {"type": "point", "shape": "M-1,1.1L1,1.1L0,-1.1Z", "size": 400, "filled": true, "opacity": 1, "color": "#111", "strokeWidth": 0},
 "encoding": {"x": {"field": "p", "type": "quantitative", "scale": {"domain": [10, 1127], "nice": false, "zero": false}, "axis": null},
  "y": {"datum": -57.4, "type": "quantitative", "scale": {"domain": [-121.28, 211.35], "nice": false, "zero": false}, "axis": null}}}
]
}
]
}
